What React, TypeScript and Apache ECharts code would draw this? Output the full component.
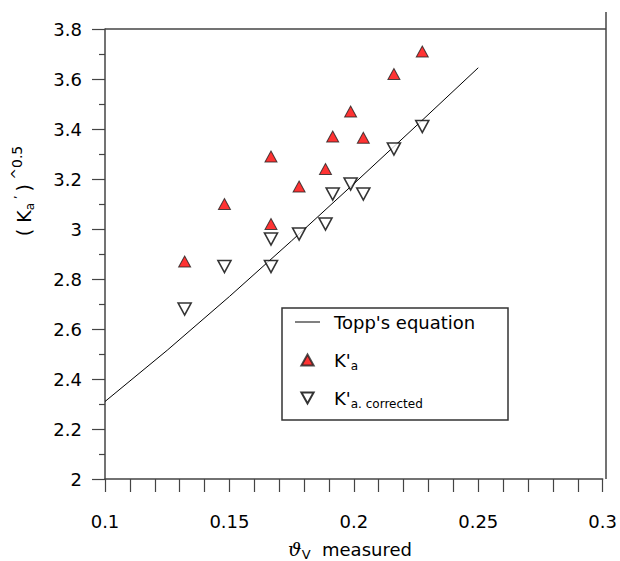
import React, { useEffect, useRef } from "react";
import * as echarts from "echarts";

// ---- data ----
const theta = [0.132, 0.148, 0.1667, 0.1667, 0.178, 0.1886, 0.1915, 0.1987, 0.2038, 0.2161, 0.2275];
const kaRaw = [2.87, 3.10, 3.29, 3.02, 3.17, 3.24, 3.37, 3.47, 3.365, 3.62, 3.71];
const kaCorrected = [2.68, 2.85, 2.96, 2.85, 2.98, 3.02, 3.14, 3.18, 3.14, 3.32, 3.41];

const toppTheta = [0.1, 0.125, 0.15, 0.175, 0.2, 0.225, 0.25];
const toppValue = [2.31, 2.515, 2.73, 2.953, 3.181, 3.412, 3.645];

const xLabelValues = [0.1, 0.15, 0.2, 0.25, 0.3];

const seriesNames = ["Topp's equation", "K'a", "K'a. corrected"];

const FONT = "DejaVu Sans";

export default function App() {
  const ref = useRef<HTMLDivElement>(null);

  useEffect(() => {
    if (!ref.current) return;
    const chart = echarts.init(ref.current, null, { renderer: "svg" });

    const axisColor = "#444";

    const option: any = {
      animation: false,
      backgroundColor: "#ffffff",
      grid: { left: 105, top: 29, width: 501, height: 450, containLabel: false },
      xAxis: {
        type: "value",
        min: 0.1,
        max: 0.3,
        interval: 0.01,
        splitLine: { show: false },
        axisLine: { show: true, onZero: false, lineStyle: { color: axisColor, width: 1.5 } },
        axisTick: { show: true, inside: false, length: 13, lineStyle: { color: axisColor, width: 1.2 } },
        axisLabel: {
          margin: 33,
          fontFamily: FONT,
          fontSize: 18,
          color: "#000",
          formatter: (v: number) => {
            const r = Math.round(v * 100);
            const hit = xLabelValues.find((x) => Math.round(x * 100) === r);
            return hit !== undefined ? String(hit) : "";
          },
        },
      },
      yAxis: {
        type: "value",
        min: 2,
        max: 3.8,
        interval: 0.2,
        splitLine: { show: false },
        axisLine: { show: true, onZero: false, lineStyle: { color: axisColor, width: 1.5 } },
        axisTick: { show: true, inside: false, length: 13, lineStyle: { color: axisColor, width: 1.2 } },
        minorTick: { show: true, splitNumber: 2, length: 6, lineStyle: { color: axisColor, width: 1.2 } },
        minorSplitLine: { show: false },
        axisLabel: { margin: 23, fontFamily: FONT, fontSize: 18, color: "#000" },
      },
      legend: {
        orient: "vertical",
        left: 295,
        top: 313,
        padding: 0,
        itemGap: 17,
        itemWidth: 25,
        itemHeight: 11,
        symbolRotate: 0,
        symbolKeepAspect: true,
        data: [
          { name: seriesNames[0], icon: "path://M0,0L25,0L25,1L0,1Z" },
          { name: seriesNames[1], icon: "path://M5,0L10,9L0,9Z" },
          { name: seriesNames[2], icon: "path://M0,0L10,0L5,9Z" },
        ],
        textStyle: {
          fontFamily: FONT,
          fontSize: 18,
          color: "#000",
          padding: [0, 0, 0, 9],
          rich: {
            m: { fontFamily: FONT, fontSize: 18, color: "#000" },
            s: { fontFamily: FONT, fontSize: 12, color: "#000", padding: [12, 0, 0, 0] },
          },
        },
        formatter: (name: string) => {
          if (name === seriesNames[1]) return "{m|K'}{s|a}";
          if (name === seriesNames[2]) return "{m|K'}{s|a. corrected}";
          return "{m|" + name + "}{s|\u00a0}";
        },
      },
      graphic: [
        {
          type: "line",
          shape: { x1: 606, y1: 12, x2: 606, y2: 479 },
          style: { stroke: axisColor, lineWidth: 1.5 },
          silent: true,
        },
        {
          type: "line",
          shape: { x1: 105, y1: 29, x2: 606, y2: 29 },
          style: { stroke: axisColor, lineWidth: 1.5 },
          silent: true,
        },
        {
          type: "rect",
          shape: { x: 282, y: 308, width: 226, height: 112 },
          style: { fill: "none", stroke: "#333", lineWidth: 1.5 },
          silent: true,
        },
        {
          type: "text",
          x: 24,
          y: 191,
          rotation: Math.PI / 2,
          style: {
            text: "{n|( K}{s|a}{p| \u2019 }{n|)}{q| ^0.5}",
            align: "center",
            verticalAlign: "middle",
            rich: {
              n: { fontFamily: FONT, fontSize: 19, fill: "#000" },
              s: { fontFamily: FONT, fontSize: 12, fill: "#000", padding: [12, 0, 0, 0] },
              p: { fontFamily: FONT, fontSize: 12, fill: "#000", padding: [0, 0, 10, 0] },
              q: { fontFamily: FONT, fontSize: 14, fill: "#000", padding: [0, 0, 14, 0] },
            },
          },
          silent: true,
        },
        {
          type: "text",
          x: 350,
          y: 549,
          style: {
            text: "{t|\u03D1}{s|V}{n|  measured}",
            align: "center",
            verticalAlign: "middle",
            rich: {
              t: { fontFamily: "DejaVu Serif", fontSize: 19, fontStyle: "italic", fill: "#000" },
              s: { fontFamily: FONT, fontSize: 13, fill: "#000", padding: [10, 0, 0, 0] },
              n: { fontFamily: FONT, fontSize: 18, fill: "#000" },
            },
          },
          silent: true,
        },
      ],
      series: [
        {
          name: seriesNames[0],
          type: "line",
          data: toppTheta.map((t, i) => [t, toppValue[i]]),
          symbol: "none",
          showSymbol: false,
          lineStyle: { color: "#000", width: 1 },
          itemStyle: { color: "#000" },
          z: 2,
        },
        {
          name: seriesNames[1],
          type: "scatter",
          data: theta.map((t, i) => [t, kaRaw[i]]),
          symbol: "triangle",
          symbolSize: [12, 11],
          itemStyle: { color: "#ff0000", borderColor: "#222", borderWidth: 1 },
          z: 3,
        },
        {
          name: seriesNames[2],
          type: "scatter",
          data: theta.map((t, i) => [t, kaCorrected[i]]),
          symbol: "triangle",
          symbolSize: [13, 12],
          symbolRotate: 180,
          itemStyle: { color: "#ffffff", borderColor: "#000", borderWidth: 1.6 },
          z: 4,
        },
      ],
    };

    chart.setOption(option);
    return () => chart.dispose();
  }, []);

  return (
    <div
      ref={ref}
      style={{ position: "fixed", left: 0, top: 0, width: 620, height: 561, background: "#fff" }}
    />
  );
}
